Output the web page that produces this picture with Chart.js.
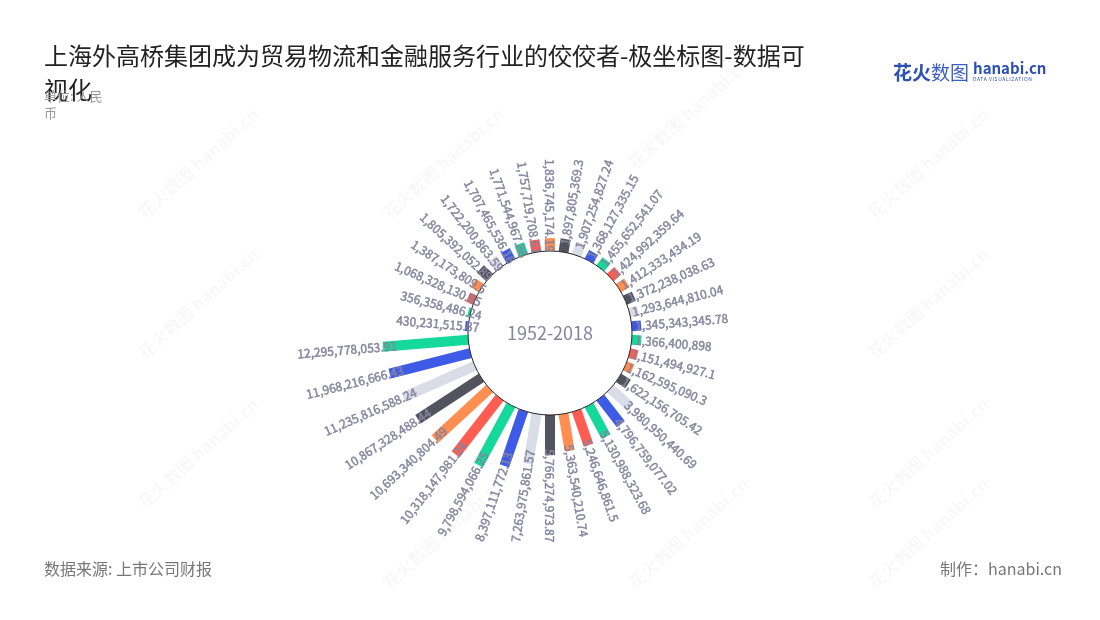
<!DOCTYPE html>
<html lang="zh">
<head>
    <meta charset="UTF-8">
    <title>上海外高桥集团 极坐标图</title>
    <script src="https://cdn.jsdelivr.net/npm/chart.js@4.4.0/dist/chart.umd.min.js"></script>
    <style>
        body { margin: 0; width: 1100px; height: 620px; position: relative; overflow: hidden; background: #fff;
               font-family: "Noto Sans CJK SC", "Noto Sans", sans-serif; }
        #title { position: absolute; left: 44px; top: 38px; width: 780px; font-size: 24px; line-height: 34px; color: #222; }
        #unit { position: absolute; left: 44px; top: 87px; width: 68px; font-size: 13px; line-height: 17px; color: #999; }
        #source { position: absolute; left: 44px; top: 556px; font-size: 16px; color: #777; }
        #maker { position: absolute; right: 38px; top: 556px; font-size: 16px; color: #777; }
        #logo { position: absolute; left: 893px; top: 58px; color: #2b50b4; white-space: nowrap; }
        #logo .cn { font-size: 19px; font-weight: bold; vertical-align: top; }
        #logo .cn i { font-style: normal; font-weight: normal; color: #3a5fc4; }
        #logo .en { display: inline-block; margin-left: 4px; font-size: 15px; font-weight: bold; line-height: 16px; vertical-align: top; margin-top: 2px; }
        #logo .en small { display: block; font-size: 5px; line-height: 6px; letter-spacing: 0.6px; font-weight: normal; }
        .wm { position: absolute; font-size: 17px; font-weight: bold; color: rgba(0,0,0,0.035); transform: rotate(-42deg); white-space: nowrap; }
        canvas { position: absolute; left: 0; top: 0; }
    </style>
</head>
<body>
    <div class="wm" style="left:120px;top:150px">花火数图 hanabi.cn</div>
    <div class="wm" style="left:365px;top:150px">花火数图 hanabi.cn</div>
    <div class="wm" style="left:610px;top:100px">花火数图 hanabi.cn</div>
    <div class="wm" style="left:850px;top:150px">花火数图 hanabi.cn</div>
    <div class="wm" style="left:120px;top:290px">花火数图 hanabi.cn</div>
    <div class="wm" style="left:850px;top:290px">花火数图 hanabi.cn</div>
    <div class="wm" style="left:120px;top:440px">花火数图 hanabi.cn</div>
    <div class="wm" style="left:850px;top:440px">花火数图 hanabi.cn</div>
    <div class="wm" style="left:365px;top:520px">花火数图 hanabi.cn</div>
    <div class="wm" style="left:610px;top:520px">花火数图 hanabi.cn</div>
    <div class="wm" style="left:850px;top:520px">花火数图 hanabi.cn</div>

    <canvas id="myChart" width="1100" height="620"></canvas>

    <div id="title">上海外高桥集团成为贸易物流和金融服务行业的佼佼者-极坐标图-数据可视化</div>
    <div id="unit">单位: 人民币</div>
    <div id="logo"><span class="cn">花火<i>数图</i></span><span class="en">hanabi.cn<small>DATA VISUALIZATION</small></span></div>
    <div id="source">数据来源: 上市公司财报</div>
    <div id="maker">制作：hanabi.cn</div>

    <script type="text/javascript">
        // categories (one bar per year)
        var years = ['1981', '1982', '1983', '1984', '1985', '1986', '1987', '1988', '1989', '1990',
                     '1991', '1992', '1993', '1994', '1995', '1996', '1997', '1998', '1999', '2000',
                     '2001', '2002', '2003', '2004', '2005', '2006', '2007', '2008', '2009', '2010',
                     '2011', '2012', '2013', '2014', '2015', '2016', '2017', '2018'];

        // values, 人民币
        var revenue = [430231515.87, 356358486.24, 1068328130.65, 1387173809.5, 1805392052.89,
                       1722200863.59, 1707465536.16, 1771544967.86, 1757719708.61, 1836745174.19,
                       1897805369.3, 1907254827.24, 1368127335.15, 1455652541.07, 1424992359.64,
                       1412333434.19, 1372238038.63, 1293644810.04, 1345343345.78, 1366400898,
                       1151494927.1, 1162595090.3, 1622156705.42, 3980950440.69, 4796759077.02,
                       5130988323.68, 5246646861.5, 5363540210.74, 5766274973.87, 7263975861.57,
                       8397111772.13, 9798594066.25, 10318147981.24, 10693340804.49, 10867328488.44,
                       11235816588.24, 11968216666.43, 12295778053.91];

        var centerLabel = '1952-2018';

        var palette = ['#3d5be6', '#14d99b', '#ff5c52', '#ff8e50', '#53535f', '#d8dde8'];
        var barColors = years.map(function (y, i) { return palette[i % palette.length]; });

        var labelColor = '#85859e';
        var fmt = new Intl.NumberFormat('en-US', { maximumFractionDigits: 2 });

        // draws each polar-area element as a straight bar starting at the value-0 radius
        var radialBars = {
            id: 'radialBars',
            beforeDatasetDraw: function (chart, args) {
                var ctx = chart.ctx;
                var scale = chart.scales.r;
                var r0 = scale.getDistanceFromCenterForValue(0);
                var arcs = args.meta.data;

                arcs.forEach(function (arc) {
                    var p = arc.getProps(['x', 'y', 'startAngle', 'endAngle', 'outerRadius']);
                    var mid = (p.startAngle + p.endAngle) / 2;
                    var w = 0.74 * r0 * (p.endAngle - p.startAngle);
                    ctx.save();
                    ctx.translate(p.x, p.y);
                    ctx.rotate(mid);
                    ctx.fillStyle = arc.options.backgroundColor;
                    ctx.fillRect(r0, -w / 2, p.outerRadius - r0, w);
                    ctx.restore();
                });

                // inner circle
                ctx.save();
                ctx.beginPath();
                ctx.arc(scale.xCenter, scale.yCenter, r0, 0, Math.PI * 2);
                ctx.fillStyle = '#fff';
                ctx.fill();
                ctx.lineWidth = 1;
                ctx.strokeStyle = '#222';
                ctx.stroke();
                ctx.fillStyle = labelColor;
                ctx.font = '18px "Noto Sans CJK SC", "Noto Sans", sans-serif';
                ctx.textAlign = 'center';
                ctx.textBaseline = 'middle';
                ctx.fillText(centerLabel, scale.xCenter, scale.yCenter);
                ctx.restore();

                // value labels
                arcs.forEach(function (arc, i) {
                    var p = arc.getProps(['x', 'y', 'startAngle', 'endAngle', 'outerRadius']);
                    var mid = (p.startAngle + p.endAngle) / 2;
                    var a = ((mid % (Math.PI * 2)) + Math.PI * 2) % (Math.PI * 2);
                    var flip = a > Math.PI / 2 + 0.01 && a <= Math.PI * 1.5 + 0.01;
                    var text = fmt.format(revenue[i]);
                    var tx = flip ? -(p.outerRadius - 14) : p.outerRadius - 6;
                    ctx.save();
                    ctx.translate(p.x, p.y);
                    ctx.rotate(flip ? mid + Math.PI : mid);
                    ctx.font = '12px "Noto Sans CJK SC", "Noto Sans", sans-serif';
                    ctx.fillStyle = labelColor;
                    ctx.strokeStyle = labelColor;
                    ctx.lineWidth = 0.45;
                    ctx.textBaseline = 'middle';
                    ctx.textAlign = flip ? 'right' : 'left';
                    ctx.fillText(text, tx, 0);
                    ctx.strokeText(text, tx, 0);
                    ctx.restore();
                });
                return false;
            }
        };

        var ctx = document.getElementById('myChart').getContext('2d');
        var chart = new Chart(ctx, {
            type: 'polarArea',
            data: {
                labels: years,
                datasets: [{
                    data: revenue,
                    backgroundColor: barColors,
                    borderWidth: 0
                }]
            },
            options: {
                responsive: false,
                animation: false,
                layout: { padding: { left: 350, right: 350, top: 133, bottom: 87 } },
                plugins: {
                    legend: { display: false },
                    tooltip: { enabled: false }
                },
                scales: {
                    r: {
                        min: -11.78e9,
                        max: 16.95e9,
                        startAngle: 270,
                        ticks: { display: false },
                        grid: { display: false },
                        angleLines: { display: false },
                        pointLabels: { display: false }
                    }
                }
            },
            plugins: [radialBars]
        });
    </script>
</body>
</html>
